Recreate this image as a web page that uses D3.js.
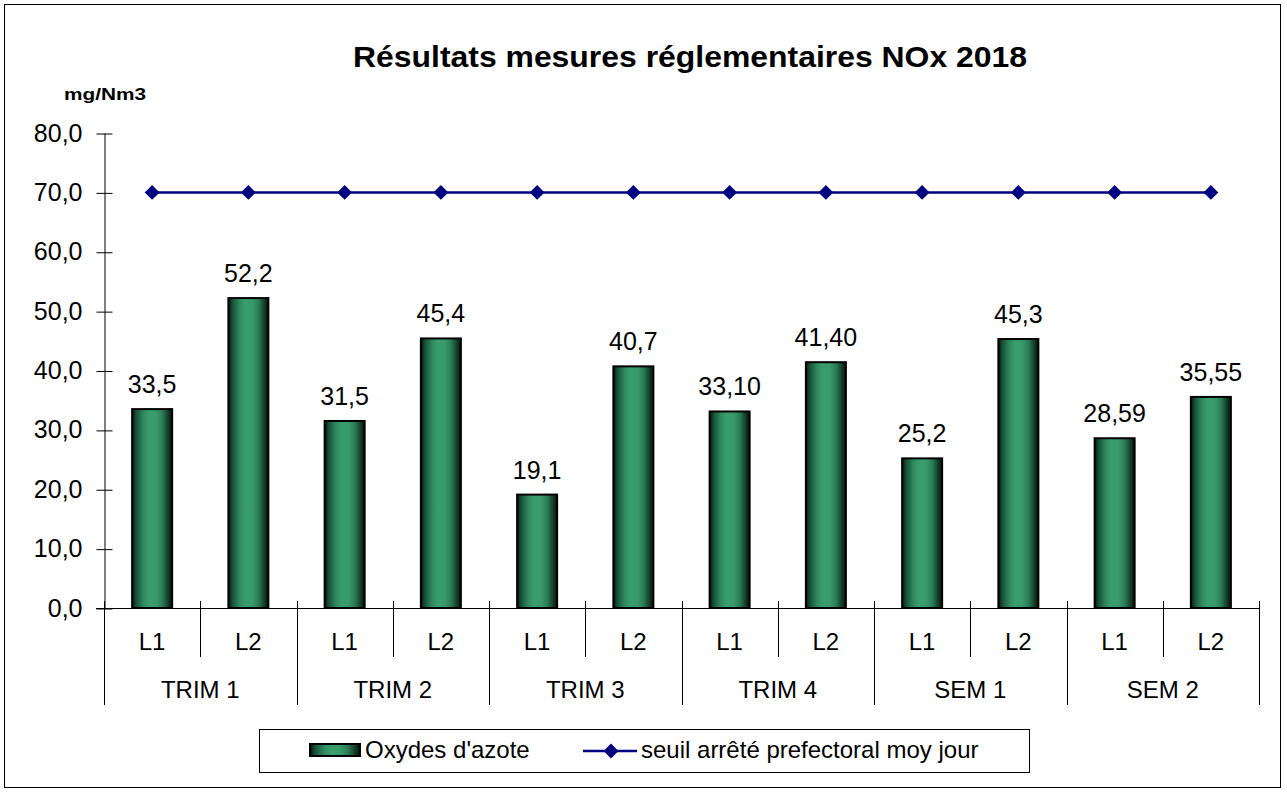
<!DOCTYPE html>
<html>
<head>
<meta charset="utf-8">
<script src="https://cdn.jsdelivr.net/npm/d3@7"></script>
<style>
  html, body { margin: 0; padding: 0; background: #fff; }
  svg { display: block; font-family: Arial, "Liberation Sans", sans-serif; }
</style>
</head>
<body>
<svg id="chart" width="1287" height="793"></svg>
<script>
// Data
const groups = ["TRIM 1", "TRIM 2", "TRIM 3", "TRIM 4", "SEM 1", "SEM 2"];
const lines = ["L1", "L2"];
const noxValues = [33.5, 52.2, 31.5, 45.4, 19.1, 40.7, 33.10, 41.40, 25.2, 45.3, 28.59, 35.55];
const noxLabels = ["33,5", "52,2", "31,5", "45,4", "19,1", "40,7", "33,10", "41,40", "25,2", "45,3", "28,59", "35,55"];
const thresholdValues = [70, 70, 70, 70, 70, 70, 70, 70, 70, 70, 70, 70];
const yTicks = [0, 10, 20, 30, 40, 50, 60, 70, 80];

const svg = d3.select("#chart");
const FONT = "Arial, 'Liberation Sans', sans-serif";

// Layout
const plot = { left: 104, right: 1259, top: 133, bottom: 608 };

const slots = [];
groups.forEach(g => lines.forEach(l => slots.push(g + "|" + l)));

const x = d3.scaleBand().domain(slots).range([plot.left, plot.right]).paddingInner(0).paddingOuter(0);
const xGroup = d3.scaleBand().domain(groups).range([plot.left, plot.right]);
const y = d3.scaleLinear().domain([0, 80]).range([plot.bottom, plot.top]);
const cx = i => x(slots[i]) + x.bandwidth() / 2;

const barWidth = 40;

// Outer frame
svg.append("rect")
  .attr("x", 4.5).attr("y", 4.5).attr("width", 1276).attr("height", 783)
  .attr("fill", "#fff").attr("stroke", "#000").attr("stroke-width", 1);

// Bar gradient (cylindrical shading)
const defs = svg.append("defs");
const grad = defs.append("linearGradient").attr("id", "barGrad")
  .attr("x1", "0%").attr("x2", "100%").attr("y1", "0%").attr("y2", "0%");
[
  [0, "#05140c"], [0.1, "#16503a"], [0.28, "#2e8a5e"], [0.42, "#3a9d6d"],
  [0.6, "#389a6b"], [0.76, "#2a7a55"], [0.9, "#133d28"], [1, "#05130c"]
].forEach(([o, c]) => grad.append("stop").attr("offset", o).attr("stop-color", c));

// Title
svg.append("text")
  .attr("x", 690).attr("y", 67)
  .attr("text-anchor", "middle")
  .attr("font-size", 30).attr("font-weight", "bold")
  .attr("textLength", 674).attr("lengthAdjust", "spacingAndGlyphs")
  .text("Résultats mesures réglementaires NOx 2018");

// Unit label
svg.append("text")
  .attr("x", 105).attr("y", 100)
  .attr("text-anchor", "middle")
  .attr("font-size", 17).attr("font-weight", "bold")
  .attr("textLength", 82).attr("lengthAdjust", "spacingAndGlyphs")
  .text("mg/Nm3");

// Y axis
const yAxis = d3.axisLeft(y).tickValues(yTicks)
  .tickFormat(d => d3.format(".1f")(d).replace(".", ","))
  .tickSizeInner(0).tickSizeOuter(0).tickPadding(22);
const gy = svg.append("g").attr("transform", `translate(${plot.left + 0.5},0)`).call(yAxis);
gy.select(".domain").attr("stroke", "#000");
gy.selectAll(".tick text").attr("font-size", 25).attr("font-family", FONT).attr("fill", "#000");
gy.selectAll(".tick line").remove();
// tick marks that cross the axis
gy.selectAll(".tick").append("line")
  .attr("x1", -8).attr("x2", 8).attr("y1", 0.5).attr("y2", 0.5).attr("stroke", "#000");

// X axis baseline
svg.append("line")
  .attr("x1", plot.left - 8).attr("x2", plot.right + 1)
  .attr("y1", y(0) + 0.5).attr("y2", y(0) + 0.5)
  .attr("stroke", "#000");

// Slot dividers (between L1 and L2 within a group)
groups.forEach(g => {
  const xm = Math.round(x(g + "|L2")) + 0.5;
  svg.append("line")
    .attr("x1", xm).attr("x2", xm)
    .attr("y1", y(0) - 7).attr("y2", 657)
    .attr("stroke", "#000");
});
// Group dividers
groups.concat(["end"]).forEach((g, i) => {
  const xb = Math.round(i < groups.length ? xGroup(g) : plot.right) + 0.5;
  svg.append("line")
    .attr("x1", xb).attr("x2", xb)
    .attr("y1", y(0) - 7).attr("y2", 705)
    .attr("stroke", "#000");
});

// Line labels
slots.forEach((s, i) => {
  svg.append("text")
    .attr("x", cx(i)).attr("y", 650)
    .attr("text-anchor", "middle").attr("font-size", 24)
    .text(s.split("|")[1]);
});
// Group labels
groups.forEach(g => {
  svg.append("text")
    .attr("x", xGroup(g) + xGroup.bandwidth() / 2).attr("y", 698)
    .attr("text-anchor", "middle").attr("font-size", 24)
    .text(g);
});

// Bars
svg.append("g").selectAll("rect")
  .data(noxValues)
  .join("rect")
  .attr("x", (d, i) => cx(i) - barWidth / 2)
  .attr("y", d => y(d))
  .attr("width", barWidth)
  .attr("height", d => y(0) - y(d))
  .attr("fill", "url(#barGrad)")
  .attr("stroke", "#000").attr("stroke-width", 2);

// Value labels
svg.append("g").selectAll("text")
  .data(noxValues)
  .join("text")
  .attr("x", (d, i) => cx(i))
  .attr("y", d => y(d) - 16)
  .attr("text-anchor", "middle").attr("font-size", 25)
  .text((d, i) => noxLabels[i]);

// Threshold line
const lineGen = d3.line()
  .x((d, i) => cx(i))
  .y(d => y(d));
svg.append("path")
  .datum(thresholdValues)
  .attr("d", lineGen)
  .attr("fill", "none").attr("stroke", "#000080").attr("stroke-width", 2.5);

const diamond = d3.symbol().type(d3.symbolSquare).size(110);
svg.append("g").selectAll("path")
  .data(thresholdValues)
  .join("path")
  .attr("transform", (d, i) => `translate(${cx(i)},${y(d)}) rotate(45)`)
  .attr("d", diamond)
  .attr("fill", "#000080");

// Legend
const legend = svg.append("g");
legend.append("rect")
  .attr("x", 259.5).attr("y", 729.5).attr("width", 770).attr("height", 43)
  .attr("fill", "#fff").attr("stroke", "#000");
legend.append("rect")
  .attr("x", 310).attr("y", 744).attr("width", 50).attr("height", 12)
  .attr("fill", "url(#barGrad)").attr("stroke", "#000").attr("stroke-width", 2);
legend.append("text")
  .attr("x", 365).attr("y", 758).attr("font-size", 24)
  .text("Oxydes d'azote");
legend.append("line")
  .attr("x1", 583).attr("x2", 637).attr("y1", 751).attr("y2", 751)
  .attr("stroke", "#000080").attr("stroke-width", 2.5);
legend.append("path")
  .attr("transform", "translate(611,751) rotate(45)")
  .attr("d", diamond)
  .attr("fill", "#000080");
legend.append("text")
  .attr("x", 641).attr("y", 758).attr("font-size", 24)
  .text("seuil arrêté prefectoral moy jour");
</script>
</body>
</html>
